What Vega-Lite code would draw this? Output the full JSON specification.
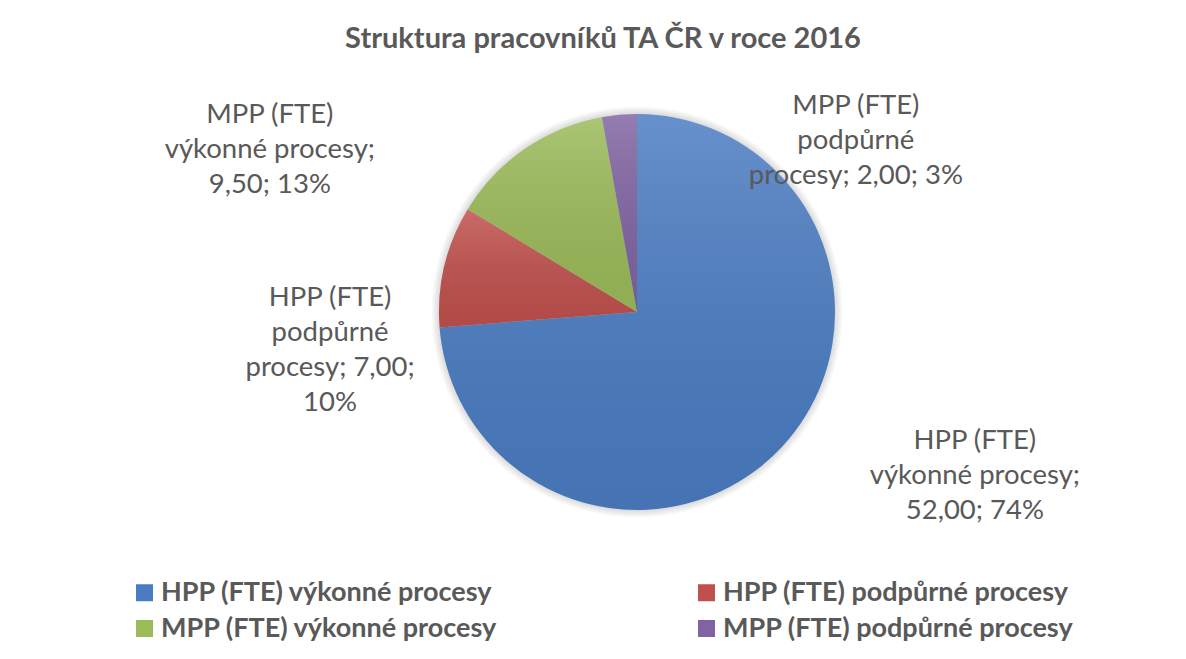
{
  "$schema": "https://vega.github.io/schema/vega-lite/v6.json",
  "width": 1098,
  "height": 624,
  "autosize": {"type": "none"},
  "padding": {"left": 88, "top": 0, "right": 0, "bottom": 35},
  "background": "white",
  "title": {
    "text": "Struktura pracovníků TA ČR v roce 2016",
    "font": "Lato",
    "fontSize": 29,
    "fontWeight": "bold",
    "color": "#595959",
    "anchor": "middle",
    "dx": -34,
    "offset": -63,
    "baseline": "top"
  },
  "data": {
    "values": [
      {"cat": "HPP (FTE) výkonné procesy", "value": 52, "ord": 1, "label": "HPP (FTE)\nvýkonné procesy;\n52,00; 74%"},
      {"cat": "HPP (FTE) podpůrné procesy", "value": 7, "ord": 2, "label": "HPP (FTE)\npodpůrné\nprocesy; 7,00;\n10%"},
      {"cat": "MPP (FTE) výkonné procesy", "value": 9.5, "ord": 3, "label": "MPP (FTE)\nvýkonné procesy;\n9,50; 13%"},
      {"cat": "MPP (FTE) podpůrné procesy", "value": 2, "ord": 4, "label": "MPP (FTE)\npodpůrné\nprocesy; 2,00; 3%"}
    ]
  },
  "layer": [
    {
      "transform": [{"filter": "datum.ord == 1"}],
      "mark": {
        "type": "arc",
        "outerRadius": 206,
        "theta": 0,
        "theta2": 6.2832,
        "fill": {
          "gradient": "radial",
          "x1": 0.5, "y1": 0.5, "r1": 0.47,
          "x2": 0.5, "y2": 0.5, "r2": 0.5,
          "stops": [
            {"offset": 0, "color": "rgba(0,0,0,0.22)"},
            {"offset": 1, "color": "rgba(0,0,0,0)"}
          ]
        }
      },
      "encoding": {}
    },
    {
      "mark": {"type": "arc", "outerRadius": 198},
      "encoding": {
        "theta": {"field": "value", "type": "quantitative", "stack": true},
        "order": {"field": "ord", "type": "quantitative", "sort": "ascending"},
        "color": {
          "field": "cat",
          "type": "nominal",
          "scale": {
            "domain": ["HPP (FTE) výkonné procesy", "HPP (FTE) podpůrné procesy", "MPP (FTE) výkonné procesy", "MPP (FTE) podpůrné procesy"],
            "range": ["#4A7CC2", "#C0504D", "#9BBB59", "#8064A2"]
          },
          "legend": {
            "orient": "none",
            "legendX": 43,
            "legendY": 579,
            "columns": 2,
            "columnPadding": 195,
            "rowPadding": 8,
            "direction": "horizontal",
            "title": null,
            "padding": 0
          }
        }
      }
    },
    {
      "mark": {
        "type": "arc",
        "outerRadius": 198,
        "fill": {
          "gradient": "linear",
          "x1": 0, "y1": 0, "x2": 0, "y2": 1,
          "stops": [
            {"offset": 0, "color": "rgba(255,255,255,0.16)"},
            {"offset": 1, "color": "rgba(0,0,0,0.07)"}
          ]
        }
      },
      "encoding": {
        "theta": {"field": "value", "type": "quantitative", "stack": true},
        "order": {"field": "ord", "type": "quantitative", "sort": "ascending"}
      }
    },
    {
      "mark": {"type": "text", "radius": 260, "dx": 147, "dy": -48, "font": "Lato", "fontSize": 27.5, "color": "#595959", "lineBreak": "\n", "lineHeight": 35, "align": "center", "baseline": "middle"},
      "encoding": {
        "theta": {"field": "value", "type": "quantitative", "stack": true},
        "order": {"field": "ord", "type": "quantitative", "sort": "ascending"},
        "text": {"condition": {"test": "datum.ord == 1", "field": "label"}, "value": ""}
      }
    },
    {
      "mark": {"type": "text", "radius": 260, "dx": -54, "dy": 46, "font": "Lato", "fontSize": 27.5, "color": "#595959", "lineBreak": "\n", "lineHeight": 35, "align": "center", "baseline": "middle"},
      "encoding": {
        "theta": {"field": "value", "type": "quantitative", "stack": true},
        "order": {"field": "ord", "type": "quantitative", "sort": "ascending"},
        "text": {"condition": {"test": "datum.ord == 2", "field": "label"}, "value": ""}
      }
    },
    {
      "mark": {"type": "text", "radius": 260, "dx": -220, "dy": 17, "font": "Lato", "fontSize": 27.5, "color": "#595959", "lineBreak": "\n", "lineHeight": 35, "align": "center", "baseline": "middle"},
      "encoding": {
        "theta": {"field": "value", "type": "quantitative", "stack": true},
        "order": {"field": "ord", "type": "quantitative", "sort": "ascending"},
        "text": {"condition": {"test": "datum.ord == 3", "field": "label"}, "value": ""}
      }
    },
    {
      "mark": {"type": "text", "radius": 260, "dx": 242, "dy": 53, "font": "Lato", "fontSize": 27.5, "color": "#595959", "lineBreak": "\n", "lineHeight": 35, "align": "center", "baseline": "middle"},
      "encoding": {
        "theta": {"field": "value", "type": "quantitative", "stack": true},
        "order": {"field": "ord", "type": "quantitative", "sort": "ascending"},
        "text": {"condition": {"test": "datum.ord == 4", "field": "label"}, "value": ""}
      }
    }
  ],
  "config": {
    "view": {"stroke": null},
    "legend": {
      "symbolType": "square",
      "symbolSize": 289,
      "symbolStrokeWidth": 0,
      "labelFont": "Lato",
      "labelFontSize": 27,
      "labelFontWeight": "bold",
      "labelColor": "#595959",
      "labelOffset": 3,
      "labelLimit": 0
    }
  }
}
